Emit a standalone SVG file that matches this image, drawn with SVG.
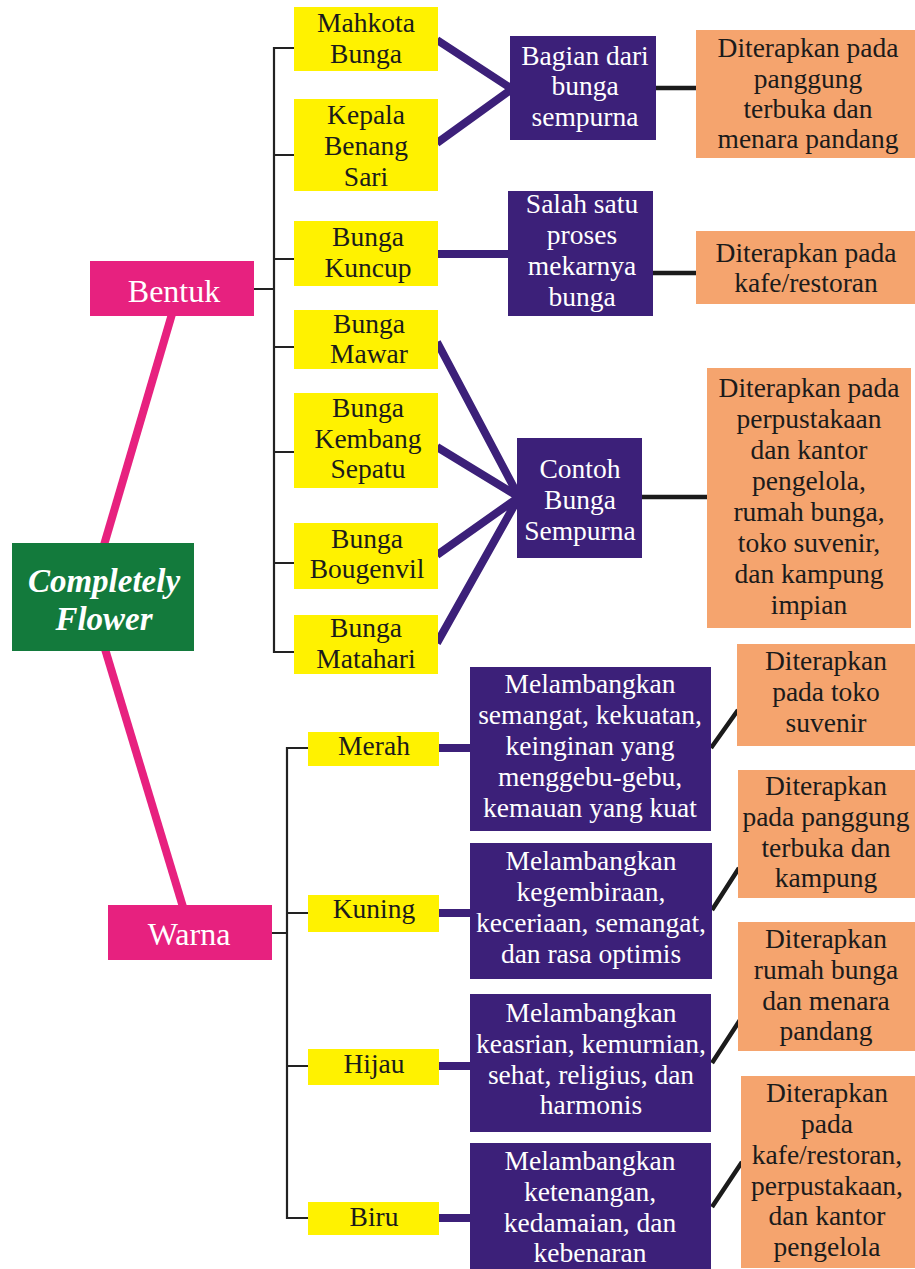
<svg xmlns="http://www.w3.org/2000/svg" width="915" height="1269" viewBox="0 0 915 1269">
<style>
.y{fill:#fff200}.p{fill:#3c2079}.o{fill:#f5a46e}.k{fill:#e7217f}.g{fill:#137a3c}
.tb{fill:#1b1b1b}
.tw{fill:#ffffff}
.thin{stroke:#222;stroke-width:2.2;fill:none}
.pl{stroke:#3c2079;stroke-width:8;fill:none}
.bl{stroke:#1b1b1b;stroke-width:4.5;fill:none}
.pk{stroke:#e7217f;stroke-width:8;fill:none}
</style>
<rect width="915" height="1269" fill="#ffffff"/>
<g id="connectors">
<path class="pk" d="M172 314 L104 545"/>
<path class="pk" d="M105 649 L183 907"/>
<path class="thin" d="M254 289 H274 M294 48 H274 V652 H294 M274 155 H294 M274 259 H294 M274 347 H294 M274 452 H294 M274 563 H294"/>
<path class="thin" d="M272 933 H287 M308 748 H287 V1218 H308 M287 913 H308 M287 1066 H308"/>
<path class="pl" d="M437 40 L512 89 M437 143 L512 89"/>
<path class="pl" d="M437 254 H510"/>
<path class="pl" d="M437 342 L519 497 M437 447 L519 497 M437 555 L519 497 M437 643 L519 497"/>
<path class="pl" d="M438 748 H472 M438 913 H472 M438 1066 H472 M438 1218 H472"/>
<path class="bl" d="M655 88 H697 M652 273 H697 M641 497 H708"/>
<path class="bl" d="M711 748 L738 710 M712 910 L739 868 M712 1063 L740 1020 M712 1207 L742 1162"/>
</g>
<g id="n-center"><rect class="g" x="12" y="543" width="182" height="108"/><text font-family="Times New Roman" font-size="33" font-weight="bold" font-style="italic" text-anchor="middle" class="tw"><tspan x="104" y="592">Completely</tspan><tspan x="104" y="630">Flower</tspan></text></g>
<g id="n-bentuk"><rect class="k" x="90" y="261" width="164" height="55"/><text font-family="Times New Roman" font-size="32" text-anchor="middle" class="tw" x="174" y="302">Bentuk</text></g>
<g id="n-warna"><rect class="k" x="108" y="905" width="164" height="55"/><text font-family="Times New Roman" font-size="32" text-anchor="middle" class="tw" x="189" y="945">Warna</text></g>
<g id="n-mahkota"><rect class="y" x="294" y="7" width="144" height="64"/><text font-family="Times New Roman" font-size="27.5" text-anchor="middle" class="tb"><tspan x="366" y="32">Mahkota</tspan><tspan x="366" y="63">Bunga</tspan></text></g>
<g id="n-kepala"><rect class="y" x="294" y="99" width="144" height="92"/><text font-family="Times New Roman" font-size="27.5" text-anchor="middle" class="tb"><tspan x="366" y="124">Kepala</tspan><tspan x="366" y="155">Benang</tspan><tspan x="366" y="186">Sari</tspan></text></g>
<g id="n-kuncup"><rect class="y" x="294" y="221" width="144" height="65"/><text font-family="Times New Roman" font-size="27.5" text-anchor="middle" class="tb"><tspan x="368" y="246">Bunga</tspan><tspan x="368" y="277">Kuncup</tspan></text></g>
<g id="n-mawar"><rect class="y" x="294" y="310" width="144" height="59"/><text font-family="Times New Roman" font-size="27.5" text-anchor="middle" class="tb"><tspan x="369" y="333">Bunga</tspan><tspan x="369" y="363">Mawar</tspan></text></g>
<g id="n-kembang"><rect class="y" x="294" y="393" width="144" height="95"/><text font-family="Times New Roman" font-size="27.5" text-anchor="middle" class="tb"><tspan x="368" y="417">Bunga</tspan><tspan x="368" y="448">Kembang</tspan><tspan x="368" y="478">Sepatu</tspan></text></g>
<g id="n-bougenvil"><rect class="y" x="294" y="523" width="144" height="66"/><text font-family="Times New Roman" font-size="27.5" text-anchor="middle" class="tb"><tspan x="367" y="548">Bunga</tspan><tspan x="367" y="578">Bougenvil</tspan></text></g>
<g id="n-matahari"><rect class="y" x="294" y="615" width="144" height="59"/><text font-family="Times New Roman" font-size="27.5" text-anchor="middle" class="tb"><tspan x="366" y="637">Bunga</tspan><tspan x="366" y="668">Matahari</tspan></text></g>
<g id="n-bagian"><rect class="p" x="510" y="36" width="146" height="104"/><text font-family="Times New Roman" font-size="27.5" text-anchor="middle" class="tw"><tspan x="585" y="65">Bagian dari</tspan><tspan x="585" y="95">bunga</tspan><tspan x="585" y="126">sempurna</tspan></text></g>
<g id="n-salah"><rect class="p" x="508" y="191" width="145" height="125"/><text font-family="Times New Roman" font-size="27.5" text-anchor="middle" class="tw"><tspan x="582" y="213">Salah satu</tspan><tspan x="582" y="244">proses</tspan><tspan x="582" y="275">mekarnya</tspan><tspan x="582" y="306">bunga</tspan></text></g>
<g id="n-contoh"><rect class="p" x="517" y="438" width="125" height="120"/><text font-family="Times New Roman" font-size="27.5" text-anchor="middle" class="tw"><tspan x="580" y="478">Contoh</tspan><tspan x="580" y="509">Bunga</tspan><tspan x="580" y="540">Sempurna</tspan></text></g>
<g id="n-o1"><rect class="o" x="696" y="30" width="219" height="128"/><text font-family="Times New Roman" font-size="27.5" text-anchor="middle" class="tb"><tspan x="808" y="57">Diterapkan pada</tspan><tspan x="808" y="88">panggung</tspan><tspan x="808" y="118">terbuka dan</tspan><tspan x="808" y="148">menara pandang</tspan></text></g>
<g id="n-o2"><rect class="o" x="696" y="231" width="219" height="73"/><text font-family="Times New Roman" font-size="27.5" text-anchor="middle" class="tb"><tspan x="806" y="262">Diterapkan pada</tspan><tspan x="806" y="292">kafe/restoran</tspan></text></g>
<g id="n-o3"><rect class="o" x="707" y="368" width="204" height="260"/><text font-family="Times New Roman" font-size="27.5" text-anchor="middle" class="tb"><tspan x="809" y="397">Diterapkan pada</tspan><tspan x="809" y="428">perpustakaan</tspan><tspan x="809" y="459">dan kantor</tspan><tspan x="809" y="490">pengelola,</tspan><tspan x="809" y="521">rumah bunga,</tspan><tspan x="809" y="552">toko suvenir,</tspan><tspan x="809" y="583">dan kampung</tspan><tspan x="809" y="614">impian</tspan></text></g>
<g id="n-merah"><rect class="y" x="308" y="732" width="131" height="34"/><text font-family="Times New Roman" font-size="27.5" text-anchor="middle" class="tb" x="374" y="755">Merah</text></g>
<g id="n-kuning"><rect class="y" x="308" y="895" width="131" height="37"/><text font-family="Times New Roman" font-size="27.5" text-anchor="middle" class="tb" x="374" y="918">Kuning</text></g>
<g id="n-hijau"><rect class="y" x="308" y="1049" width="131" height="36"/><text font-family="Times New Roman" font-size="27.5" text-anchor="middle" class="tb" x="374" y="1073">Hijau</text></g>
<g id="n-biru"><rect class="y" x="308" y="1202" width="131" height="33"/><text font-family="Times New Roman" font-size="27.5" text-anchor="middle" class="tb" x="374" y="1226">Biru</text></g>
<g id="n-pm"><rect class="p" x="470" y="667" width="241" height="164"/><text font-family="Times New Roman" font-size="27.5" text-anchor="middle" class="tw"><tspan x="590" y="693">Melambangkan</tspan><tspan x="590" y="724">semangat, kekuatan,</tspan><tspan x="590" y="755">keinginan yang</tspan><tspan x="590" y="786">menggebu-gebu,</tspan><tspan x="590" y="817">kemauan yang kuat</tspan></text></g>
<g id="n-pk"><rect class="p" x="470" y="843" width="242" height="136"/><text font-family="Times New Roman" font-size="27.5" text-anchor="middle" class="tw"><tspan x="591" y="870">Melambangkan</tspan><tspan x="591" y="901">kegembiraan,</tspan><tspan x="591" y="932">keceriaan, semangat,</tspan><tspan x="591" y="963">dan rasa optimis</tspan></text></g>
<g id="n-ph"><rect class="p" x="470" y="994" width="241" height="138"/><text font-family="Times New Roman" font-size="27.5" text-anchor="middle" class="tw"><tspan x="591" y="1022">Melambangkan</tspan><tspan x="591" y="1053">keasrian, kemurnian,</tspan><tspan x="591" y="1084">sehat, religius, dan</tspan><tspan x="591" y="1114">harmonis</tspan></text></g>
<g id="n-pb"><rect class="p" x="470" y="1143" width="241" height="126"/><text font-family="Times New Roman" font-size="27.5" text-anchor="middle" class="tw"><tspan x="590" y="1170">Melambangkan</tspan><tspan x="590" y="1201">ketenangan,</tspan><tspan x="590" y="1232">kedamaian, dan</tspan><tspan x="590" y="1262">kebenaran</tspan></text></g>
<g id="n-om"><rect class="o" x="737" y="644" width="178" height="102"/><text font-family="Times New Roman" font-size="27.5" text-anchor="middle" class="tb"><tspan x="826" y="670">Diterapkan</tspan><tspan x="826" y="701">pada toko</tspan><tspan x="826" y="732">suvenir</tspan></text></g>
<g id="n-ok"><rect class="o" x="738" y="770" width="177" height="128"/><text font-family="Times New Roman" font-size="27.5" text-anchor="middle" class="tb"><tspan x="826" y="795">Diterapkan</tspan><tspan x="826" y="826">pada panggung</tspan><tspan x="826" y="857">terbuka dan</tspan><tspan x="826" y="887">kampung</tspan></text></g>
<g id="n-oh"><rect class="o" x="738" y="922" width="177" height="129"/><text font-family="Times New Roman" font-size="27.5" text-anchor="middle" class="tb"><tspan x="826" y="948">Diterapkan</tspan><tspan x="826" y="979">rumah bunga</tspan><tspan x="826" y="1010">dan menara</tspan><tspan x="826" y="1040">pandang</tspan></text></g>
<g id="n-ob"><rect class="o" x="741" y="1076" width="174" height="192"/><text font-family="Times New Roman" font-size="27.5" text-anchor="middle" class="tb"><tspan x="827" y="1102">Diterapkan</tspan><tspan x="827" y="1133">pada</tspan><tspan x="827" y="1164">kafe/restoran,</tspan><tspan x="827" y="1195">perpustakaan,</tspan><tspan x="827" y="1225">dan kantor</tspan><tspan x="827" y="1256">pengelola</tspan></text></g>
</svg>
